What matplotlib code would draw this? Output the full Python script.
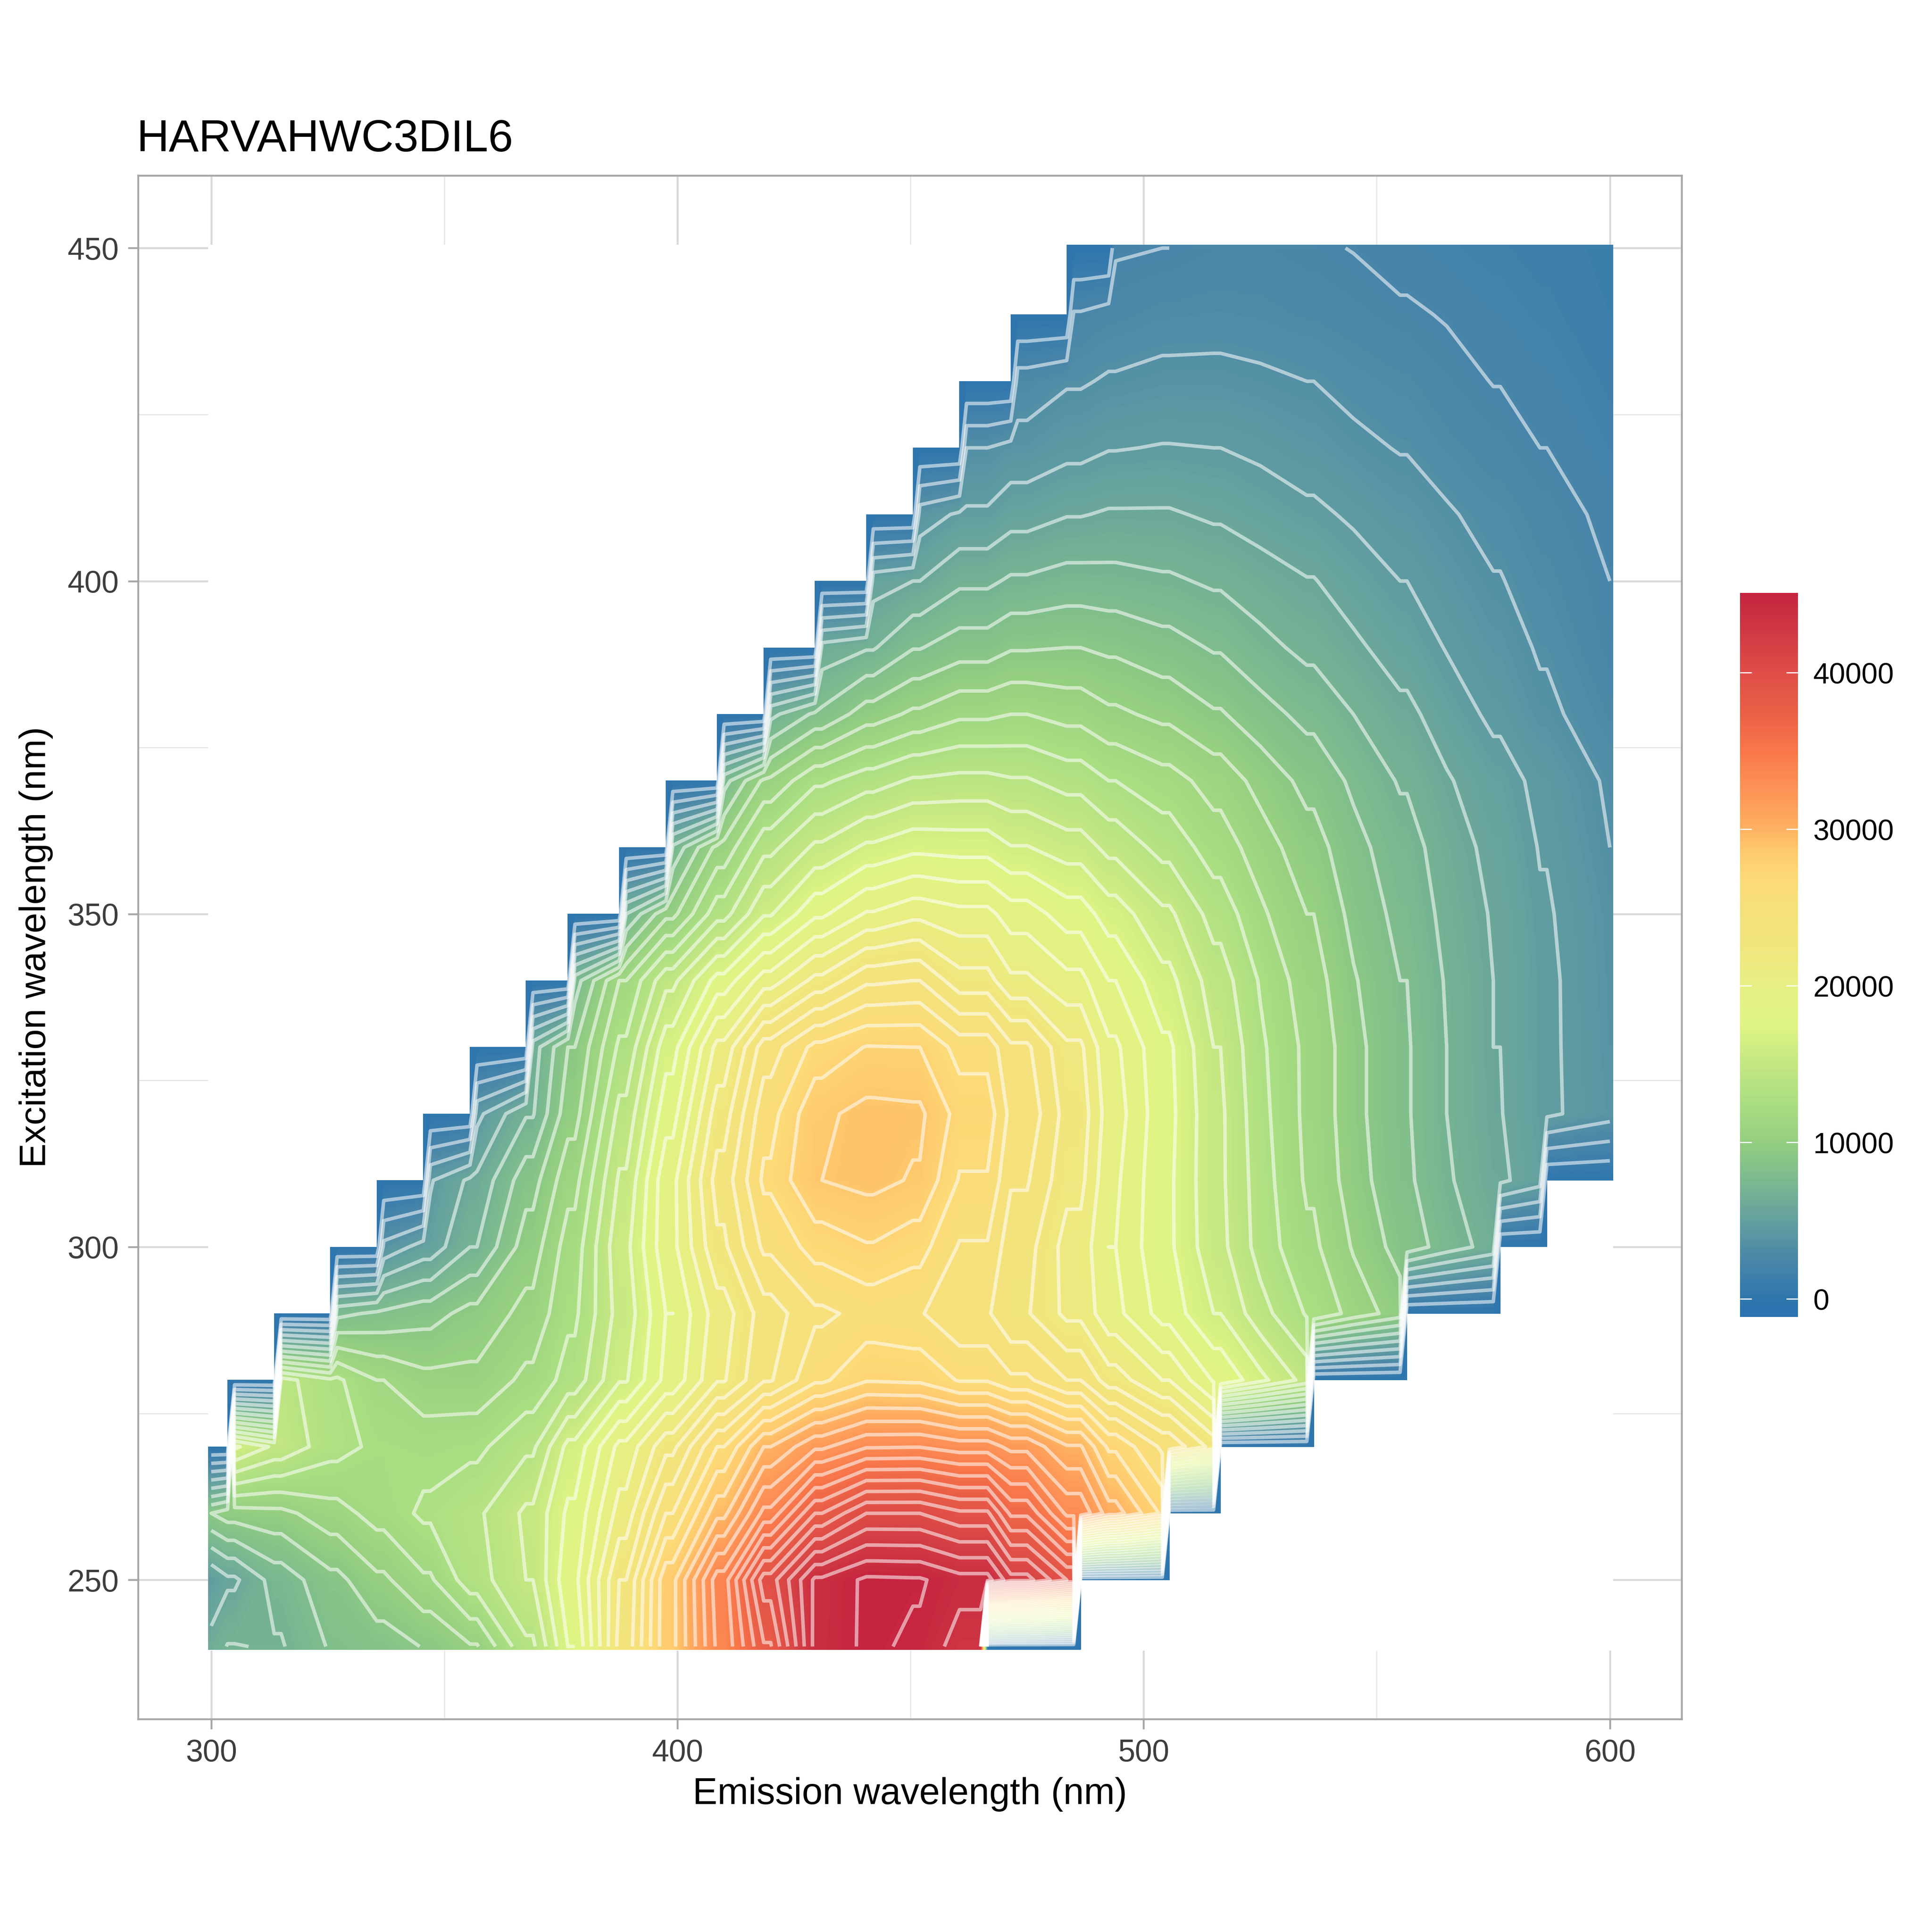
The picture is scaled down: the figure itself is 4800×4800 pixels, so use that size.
import numpy as np
import matplotlib
matplotlib.use("Agg")
import matplotlib.pyplot as plt
from matplotlib.colors import LinearSegmentedColormap
from matplotlib.patches import Rectangle

plt.rcParams['font.family'] = ['Liberation Sans', 'DejaVu Sans']

# excitation rows and emission columns
ex_rows = [240, 250, 260, 270, 280, 290, 300, 310, 320, 330, 340,
           350, 360, 370, 380, 390, 400, 410, 420, 430, 440, 450]
em_cols = [300, 305, 315, 327, 337, 347, 357, 369, 378, 389, 399, 410, 420, 431, 442,
           452, 465, 475, 485, 494, 504, 515, 525, 535, 545, 555, 565, 575, 585, 600]

# first and last measured emission of each row (the staircase)
row_start = [300, 300, 300, 305, 315, 327, 337, 347, 357, 369, 378,
             389, 399, 410, 420, 431, 442, 452, 462, 473, 485, 494]
row_end = [465, 485, 504, 515, 535, 555, 575, 585, 600, 600, 600,
           600, 600, 600, 600, 600, 600, 600, 600, 600, 600, 600]

# intensities per row, beginning at the first em_cols value inside the row
row_240 = [6210, 6960, 6790, 8170, 8630, 9260, 10240, 13570, 17250, 23350, 28410, 33580, 37840, 44050, 45080, 44620, 43130]
row_250 = [4720, 5520, 7360, 8860, 10120, 11330, 13280, 14950, 18060, 23000, 28410, 33930, 39680, 43930, 45080, 45000, 44160, 41860, 39100]
row_260 = [9200, 9780, 10010, 11040, 11960, 12880, 13570, 15180, 17480, 21160, 25300, 29560, 33700, 37950, 40250, 40250, 39330, 36570, 33120, 30480, 27370]
row_270 = [16330, 14720, 13110, 12360, 12190, 12360, 13570, 16450, 19900, 22660, 26450, 29900, 31970, 33240, 33300, 32780, 31860, 30020, 27370, 25070, 22540]
row_280 = [14260, 12880, 11500, 10700, 10640, 11790, 13110, 15990, 18750, 21740, 24040, 26220, 27490, 27370, 26340, 25530, 24150, 22430, 20700, 18290, 16450, 14490]
row_290 = [7710, 8280, 8740, 9600, 10700, 12420, 15410, 18400, 21280, 23580, 25070, 25650, 25420, 24320, 23120, 21560, 19900, 17940, 16100, 14260, 12540, 11040, 9780]
row_300 = [3800, 5060, 6900, 9780, 12020, 15760, 19210, 22770, 25530, 26910, 27490, 26910, 25190, 23460, 21390, 19550, 17480, 15300, 13340, 11730, 10240, 8740, 7480, 6440]
row_310 = [4490, 5980, 8740, 11100, 15120, 19210, 23460, 26680, 28750, 29100, 28640, 26340, 24270, 22200, 19780, 17480, 15180, 13230, 11330, 9780, 8280, 7070, 5980, 5060]
row_320 = [4260, 6790, 9890, 14150, 17940, 22430, 25990, 28520, 29100, 29000, 27140, 24960, 22540, 20130, 17600, 15180, 13050, 11210, 9600, 8170, 6900, 5810, 4830, 3910]
row_330 = [6330, 9200, 12880, 16790, 21050, 24730, 26800, 27660, 27600, 25990, 24380, 22080, 19780, 17480, 14950, 12880, 11210, 9600, 8170, 6900, 5750, 4830, 3800]
row_340 = [7480, 11500, 14610, 17710, 20130, 22200, 23920, 24150, 22310, 20930, 19900, 18400, 16450, 14380, 12540, 10870, 9320, 8050, 6790, 5750, 4830, 3740]
row_350 = [6900, 10010, 13340, 15990, 18170, 19670, 20360, 19900, 18980, 17830, 16680, 15180, 13340, 11730, 10350, 8860, 7710, 6560, 5640, 4720, 3680]
row_360 = [7130, 10700, 13460, 15180, 16330, 16910, 16790, 16160, 15530, 14610, 13400, 12080, 10930, 9660, 8450, 7360, 6330, 5410, 4540, 3450]
row_370 = [7590, 10580, 12420, 13280, 13970, 14150, 13920, 13340, 12650, 11960, 11040, 9950, 8860, 7820, 6790, 5870, 5060, 4310, 3280]
row_380 = [6560, 8280, 9780, 10580, 11270, 11500, 11100, 10580, 10060, 9320, 8510, 7710, 6900, 6040, 5180, 4370, 3680, 2820]
row_390 = [6210, 6790, 7990, 8630, 9090, 9200, 8970, 8510, 7940, 7250, 6610, 5980, 5230, 4540, 3910, 3340, 2420]
row_400 = [5290, 5750, 6670, 7070, 7360, 7300, 7070, 6730, 6270, 5810, 5180, 4600, 4030, 3510, 2990, 2300]
row_410 = [4030, 4770, 5290, 5690, 5870, 5870, 5580, 5230, 4830, 4430, 3970, 3570, 3110, 2700, 2070]
row_420 = [3450, 3850, 4260, 4540, 4660, 4600, 4370, 4030, 3680, 3390, 2990, 2650, 2300, 1780]
row_430 = [2880, 3340, 3570, 3740, 3740, 3620, 3450, 3160, 2930, 2590, 2270, 2010, 1550]
row_440 = [2420, 2760, 2990, 3050, 2990, 2820, 2650, 2420, 2240, 1960, 1730, 1320]
row_450 = [2190, 2300, 2530, 2590, 2420, 2270, 2010, 1840, 1670, 1500, 1210]

all_rows = [row_240, row_250, row_260, row_270, row_280, row_290, row_300, row_310, row_320, row_330, row_340,
            row_350, row_360, row_370, row_380, row_390, row_400, row_410, row_420, row_430, row_440, row_450]

legend_ticks = [0, 10000, 20000, 30000, 40000]
legend_min = -1150
legend_max = 45100
contour_levels = np.arange(1150, 45000, 1150)

cmap_knots = [(-1150, '#2b74b1'), (0, '#2f76ae'), (2500, '#4a86a8'), (5000, '#64a09f'), (7500, '#7ab98f'),
              (10000, '#94ce80'), (12500, '#aade82'), (15000, '#c4e782'), (17500, '#dff583'), (20000, '#e6ef82'),
              (22500, '#f1e67e'), (25000, '#f6e07c'), (27000, '#fdd976'), (28800, '#fec76c'), (30400, '#feac5f'),
              (32500, '#fd9356'), (35000, '#f8774a'), (37500, '#ea5f47'), (40000, '#df4e47'), (42500, '#d03b44'),
              (45100, '#c5243f')]
spectral = LinearSegmentedColormap.from_list(
    'eem', [((v - legend_min) / (legend_max - legend_min), c) for v, c in cmap_knots], N=512)


def build_grid():
    # the stair edges get their own columns, 1.5 nm off the measured range
    extra = []
    for s, e in zip(row_start, row_end):
        if s > 300:
            extra += [s, s - 1.5]
        if e < 600:
            extra += [e, e + 1.5]
    em_grid = np.array(sorted(set(em_cols) | set(extra)), dtype=float)
    cols = np.array(em_cols, dtype=float)

    z = np.full((len(ex_rows), len(em_grid)), np.nan)
    for i, vals in enumerate(all_rows):
        s, e = row_start[i], row_end[i]
        first = np.argmax(cols >= s)
        row_cols = cols[first:first + len(vals)]
        vals = np.array(vals, dtype=float)

        for j, em in enumerate(em_grid):
            if s <= em <= e:
                # a stair column takes the value of the closest read column
                z[i, j] = vals[np.abs(row_cols - em).argmin()]

        # zero skirt the instrument pads around each measured row
        if s > 300:
            left = max(row_start[i - 1] - 1.5, 300)
            z[i, (em_grid >= left) & (em_grid < s)] = 0
        if e < 600:
            right = min(row_end[i + 1] + 1.5, 600)
            z[i, (em_grid > e) & (em_grid <= right)] = 0
    return em_grid, z


def draw_panel(ax, em_grid, z):
    ax.set_xlim(284.3, 615.4)
    ax.set_ylim(229.1, 460.9)
    ax.set_xticks([300, 400, 500, 600])
    ax.set_yticks([250, 300, 350, 400, 450])
    ax.set_xticks([350, 450, 550], minor=True)
    ax.set_yticks([275, 325, 375, 425], minor=True)
    ax.grid(which='major', color='#d9d9d9', linewidth=1.15)
    ax.grid(which='minor', color='#e3e3e3', linewidth=0.6)
    ax.set_axisbelow(True)
    ax.tick_params(which='minor', length=0)
    ax.tick_params(which='major', length=6, width=1.1, color='#a6a6a6',
                   labelsize=18.4, labelcolor='#3d3d3d', pad=5.5)
    for s in ['top', 'bottom', 'left', 'right']:
        ax.spines[s].set_color('#a6a6a6')
        ax.spines[s].set_linewidth(1.1)

    # the raster hides the grid over its whole extent, also where it has no data
    ax.add_patch(Rectangle((299.3, 239.4), 301.4, 211.1, facecolor='white', edgecolor='none', zorder=1))

    # filled part reaches half a step further than the contour lines
    x_fill = np.concatenate(([299.4], em_grid, [600.7]))
    y_fill = np.concatenate(([239.5], ex_rows, [450.5]))
    z_fill = np.pad(z, 1, mode='edge')
    fill_levels = np.linspace(legend_min, legend_max, 300)
    cf = ax.contourf(x_fill, y_fill, np.ma.masked_invalid(z_fill), levels=fill_levels,
                     cmap=spectral, corner_mask=False, zorder=2)
    ax.contour(em_grid, ex_rows, np.ma.masked_invalid(z), levels=contour_levels, colors='white',
               alpha=0.55, linewidths=2.1, corner_mask=False, zorder=3)
    return cf


def main():
    em_grid, z = build_grid()

    fig = plt.figure(figsize=(16, 16), dpi=300)
    fig.patch.set_facecolor('white')

    ax = fig.add_axes([343 / 4800, 1 - 4271 / 4800, 3835 / 4800, 3835 / 4800])
    cf = draw_panel(ax, em_grid, z)

    ax.set_xlabel('Emission wavelength (nm)', fontsize=22.1, color='black')
    ax.set_ylabel('Excitation wavelength (nm)', fontsize=21.9, color='black')
    ax.xaxis.set_label_coords(0.5, -0.0375, transform=ax.transAxes)
    ax.yaxis.set_label_coords(-0.055, 0.5, transform=ax.transAxes)
    fig.text(340 / 4800, 1 - 376 / 4800, 'HARVAHWC3DIL6', fontsize=26.7, color='black', ha='left', va='baseline')

    cax = fig.add_axes([4323 / 4800, 1 - 3272 / 4800, 144 / 4800, 1799 / 4800])
    cbar = fig.colorbar(cf, cax=cax, ticks=legend_ticks)
    cbar.outline.set_visible(False)
    cax.tick_params(which='both', left=True, right=True, direction='in', color='white',
                    length=7, width=0.7, labelsize=17.3, labelcolor='black', pad=9)
    cax.minorticks_off()
    cax.set_yticklabels([str(t) for t in legend_ticks])

    fig.savefig('out.png', dpi=300)


main()
